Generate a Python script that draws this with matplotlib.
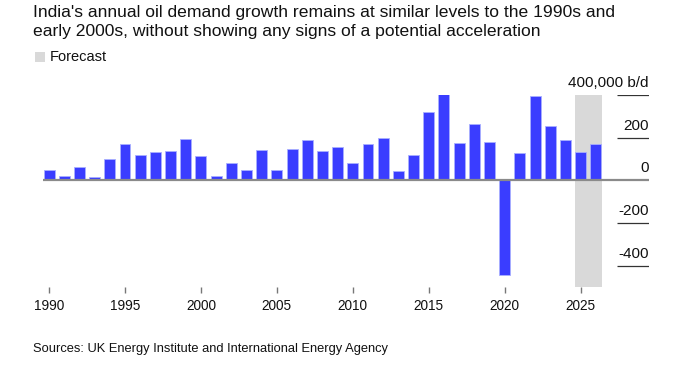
import matplotlib
matplotlib.use("Agg")
import matplotlib.pyplot as plt
from matplotlib.patches import Rectangle

plt.rcParams['font.family'] = ['Liberation Sans', 'DejaVu Sans']

years = list(range(1990, 2027))
growth = [47, 20, 64, 14, 99, 168, 119, 132, 136, 194,
          113, 22, 80, 50, 141, 48, 146, 191, 138, 154,
          80, 171, 198, 42, 119, 318, 406, 174, 265, 182,
          -445, 126, 395, 257, 190, 132, 171]
forecast_years = [2025, 2026]
xtick_years = [1990, 1995, 2000, 2005, 2010, 2015, 2020, 2025]
ytick_values = [400, 200, 0, -200, -400]
ytick_labels = ["400,000 b/d", "200", "0", "-200", "-400"]

title = ("India's annual oil demand growth remains at similar levels to the 1990s and\n"
         "early 2000s, without showing any signs of a potential acceleration")
source = "Sources: UK Energy Institute and International Energy Agency"

W, H = 673, 369
fig = plt.figure(figsize=(W / 100, H / 100), dpi=100)
ax = fig.add_axes([43 / W, 1 - 287 / H, (649 - 43) / W, (287 - 95) / H])

xmin, xmax = 1989.6, 2029.5
ymin, ymax = -500, 400
ax.set_xlim(xmin, xmax)
ax.set_ylim(ymin, ymax)

# forecast band
ax.axvspan(min(forecast_years) - 0.37, max(forecast_years) + 0.4,
           color='#d9d9d9', zorder=0, lw=0)

ax.bar(years, growth, width=0.72, color='#3a3dff', edgecolor='#a9afff',
       linewidth=0.6, zorder=2)

# right-side short gridlines + labels
grid_start = 2027.4
for v, lab in zip(ytick_values, ytick_labels):
    if v == 0:
        ax.axhline(0, color='#8a8a8a', lw=1.6, zorder=3)
    else:
        ax.hlines(v, grid_start, xmax, color='#333333', lw=0.9, zorder=3)
    ax.annotate(lab, xy=(xmax, v), xytext=(0, 3.5), textcoords='offset points',
                ha='right', va='bottom', fontsize=11, color='#111111',
                annotation_clip=False)

for s in ax.spines.values():
    s.set_visible(False)
ax.set_yticks([])
ax.set_xticks(xtick_years)
ax.set_xticklabels([str(y) for y in xtick_years])
ax.tick_params(axis='x', length=4, width=1, color='#777777', pad=5,
               labelsize=9.8, labelcolor='#111111')

fig.text(33 / W, 1 - 5 / H, title, ha='left', va='top', fontsize=12.6,
         linespacing=1.3, color='#111111')
fig.patches.append(Rectangle((35 / W, 1 - 62 / H), 10 / W, 10 / H,
                             transform=fig.transFigure, color='#d9d9d9', lw=0))
fig.text(50 / W, 1 - 57 / H, "Forecast", ha='left', va='center', fontsize=10.5,
         color='#111111')
fig.text(33 / W, 1 - 349 / H, source, ha='left', va='center', fontsize=9.3,
         color='#111111')

fig.savefig("out.png", dpi=100)
